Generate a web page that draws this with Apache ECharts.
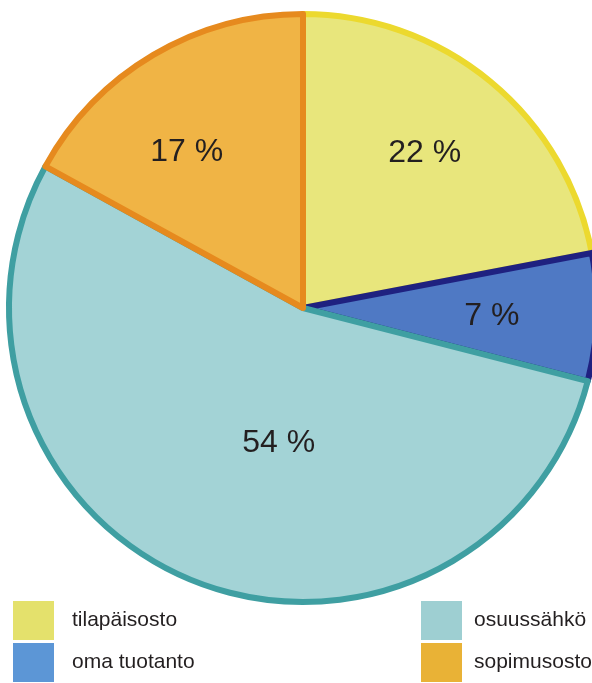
<!DOCTYPE html>
<html>
<head>
<meta charset="utf-8">
<script src="https://cdn.jsdelivr.net/npm/echarts@6/dist/echarts.min.js"></script>
<style>
  html, body { margin: 0; padding: 0; background: #fff; }
  #chart { width: 592px; height: 683px; }
</style>
</head>
<body>
<div id="chart"></div>
<script>
/* data */
var categories = ['tilapäisosto', 'oma tuotanto', 'osuussähkö', 'sopimusosto'];
var shares = [22, 7, 54, 17];

/* colours per slice */
var fills   = ['#e8e67c', '#4f79c4', '#a3d3d6', '#f0b445'];
var borders = ['#ecd92e', '#1f2180', '#3f9fa2', '#e68a1e'];
var legendFills = ['#e4e16c', '#5c96d6', '#9ecfd2', '#e9b236'];

/* nudges for the percent labels, from the default inside spot */
var labelShift = [[26, -39], [39, 3], [31, -4], [-40, -27]];

var font = '"Liberation Sans", Arial, sans-serif';

var pieData = categories.map(function (name, i) {
    return {
        name: name,
        value: shares[i],
        itemStyle: { color: fills[i], borderColor: borders[i], borderWidth: 6 }
    };
});

function legendItems(idx) {
    return idx.map(function (i) {
        return { name: categories[i], itemStyle: { color: legendFills[i], borderWidth: 0 } };
    });
}

var legendBase = {
    orient: 'vertical',
    top: 601,
    padding: 0,
    itemWidth: 41,
    itemHeight: 39,
    itemGap: 3,
    icon: 'rect',
    selectedMode: false,
    itemStyle: { borderWidth: 0 }
};

var myChart = echarts.init(document.getElementById('chart'));
var option = {
    animation: false,
    legend: [
        Object.assign({}, legendBase, {
            left: 13,
            data: legendItems([0, 1]),
            textStyle: { fontFamily: font, fontSize: 21, color: '#231f20', padding: [2, 0, 0, 13] }
        }),
        Object.assign({}, legendBase, {
            left: 421,
            data: legendItems([2, 3]),
            textStyle: { fontFamily: font, fontSize: 21, color: '#231f20', padding: [2, 0, 0, 7] }
        })
    ],
    series: [{
        type: 'pie',
        center: [303, 308],
        radius: [0, 294],
        startAngle: 90,
        clockwise: true,
        label: {
            show: true,
            position: 'inside',
            formatter: '{c} %',
            fontFamily: font,
            fontSize: 32,
            color: '#231f20'
        },
        labelLine: { show: false },
        labelLayout: function (p) {
            var s = labelShift[p.dataIndex];
            return { dx: s[0], dy: s[1] };
        },
        emphasis: { disabled: true },
        data: pieData
    }]
};
myChart.setOption(option);
</script>
</body>
</html>
